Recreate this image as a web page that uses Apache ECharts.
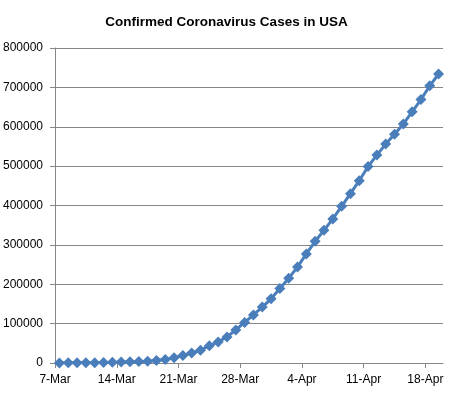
<!DOCTYPE html>
<html>
<head>
<meta charset="utf-8">
<script src="https://cdn.jsdelivr.net/npm/echarts@6/dist/echarts.min.js"></script>
<style>
html, body { margin: 0; padding: 0; background: #fff; }
#pic1 { width: 453px; height: 398px; }
</style>
</head>
<body>
<div id="pic1"></div>
<script>
// 每日日期（7-Mar 到 19-Apr）
var days = ['7-Mar','8-Mar','9-Mar','10-Mar','11-Mar','12-Mar','13-Mar',
    '14-Mar','15-Mar','16-Mar','17-Mar','18-Mar','19-Mar','20-Mar',
    '21-Mar','22-Mar','23-Mar','24-Mar','25-Mar','26-Mar','27-Mar',
    '28-Mar','29-Mar','30-Mar','31-Mar','1-Apr','2-Apr','3-Apr',
    '4-Apr','5-Apr','6-Apr','7-Apr','8-Apr','9-Apr','10-Apr',
    '11-Apr','12-Apr','13-Apr','14-Apr','15-Apr','16-Apr','17-Apr',
    '18-Apr','19-Apr'];
// 确诊人数
var cases = [300, 400, 500, 600, 900, 1300, 1700,
    2300, 3000, 3600, 4700, 6400, 9000, 13500,
    19000, 25500, 32500, 44000, 53500, 66000, 84000,
    103000, 122000, 142000, 163000, 189000, 215000, 244000,
    277000, 309000, 337000, 366000, 398000, 430000, 463000,
    499000, 528000, 556000, 581000, 607000, 638000, 669000,
    704000, 734000];
// 横轴刻度标签，每7天一个
var tickLabels = ['7-Mar','14-Mar','21-Mar','28-Mar','4-Apr','11-Apr','18-Apr'];
var yTicks = [0, 100000, 200000, 300000, 400000, 500000, 600000, 700000, 800000];

var tickPos = tickLabels.map(function (d) { return days.indexOf(d); });
// 每个点放在当天格子的中间
var points = cases.map(function (v, i) { return [i + 0.5, v]; });

var myChart = echarts.init(document.getElementById('pic1'));

var axisGray = '#868686';
var option = {
    animation: false,
    title: {
        text: 'Confirmed Coronavirus Cases in USA',
        left: 'center',
        top: 10,
        textStyle: {
            fontFamily: 'Liberation Sans',
            fontSize: 13.5,
            fontWeight: 'bold',
            color: '#000'
        }
    },
    grid: {
        left: 55,
        right: 10,
        top: 48,
        bottom: 35
    },
    xAxis: {
        type: 'value',
        min: 0,
        max: days.length,
        splitLine: { show: false },
        axisLine: { lineStyle: { color: axisGray, width: 1 } },
        axisTick: {
            show: true,
            inside: false,
            length: 5,
            customValues: tickPos,
            lineStyle: { color: axisGray }
        },
        axisLabel: {
            customValues: tickPos,
            margin: 11,
            fontFamily: 'Liberation Sans',
            fontSize: 12,
            color: '#000',
            formatter: function (v) { return days[Math.round(v)] || ''; }
        }
    },
    yAxis: {
        type: 'value',
        min: yTicks[0],
        max: yTicks[yTicks.length - 1],
        interval: yTicks[1] - yTicks[0],
        axisLine: { show: true, lineStyle: { color: axisGray, width: 1 } },
        axisTick: {
            show: true,
            inside: false,
            length: 5,
            lineStyle: { color: axisGray, width: 1 }
        },
        splitLine: { lineStyle: { color: axisGray, width: 1 } },
        axisLabel: {
            margin: 12,
            fontFamily: 'Liberation Sans',
            fontSize: 12,
            color: '#000',
            formatter: function (v) { return String(v); }
        }
    },
    series: [
        {
            name: 'Cases',
            type: 'line',
            data: points,
            symbol: 'diamond',
            symbolSize: [11, 11],
            lineStyle: { color: '#4a7ebb', width: 3 },
            itemStyle: { color: '#4a7ebb' }
        }
    ]
};
myChart.setOption(option);
</script>
</body>
</html>
